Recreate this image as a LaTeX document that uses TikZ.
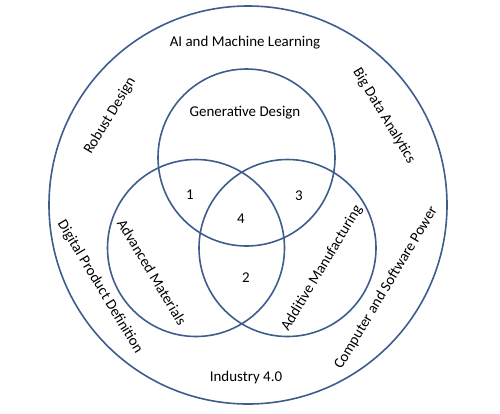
\documentclass[tikz,border=0pt]{standalone}
\usepackage{fontspec}
\setmainfont{Carlito}
\begin{document}
\begin{tikzpicture}[x=1bp,y=-1bp,
  ring/.style={draw=ringblue, line width=1.6bp},
  lbl/.style={font=\fontsize{15}{18}\selectfont, inner sep=0pt, text=black}]
\definecolor{ringblue}{RGB}{62,92,140}
\useasboundingbox (0,0) rectangle (500,413);
\node[circle, ring, minimum size=398bp, inner sep=0pt] (outer) at (248,205) {};
\node[circle, ring, minimum size=177bp, inner sep=0pt] (top) at (246.5,157.5) {};
\node[circle, ring, minimum size=177bp, inner sep=0pt] (left) at (196,248) {};
\node[circle, ring, minimum size=177bp, inner sep=0pt] (right) at (287.5,248) {};
\node[lbl] (ai) at (245,43) {AI and Machine Learning};
\node[lbl] (gen) at (245,113) {Generative Design};
\node[lbl, rotate=59] (robust) at (110,116) {Robust Design};
\node[lbl, rotate=-59] (bigdata) at (384,116) {Big Data Analytics};
\node[lbl, rotate=-59] (digital) at (100,287) {Digital Product Definition};
\node[lbl, rotate=59] (computer) at (386,288) {Computer and Software Power};
\node[lbl] (industry) at (246,378) {Industry 4.0};
\node[lbl, rotate=-59] (adv) at (152,272) {Advanced Materials};
\node[lbl, rotate=59] (add) at (322,268) {Additive Manufacturing};
\node[lbl] (n1) at (190,195) {1};
\node[lbl] (n3) at (299,196) {3};
\node[lbl] (n4) at (241,219) {4};
\node[lbl] (n2) at (246,278) {2};
\end{tikzpicture}
\end{document}
